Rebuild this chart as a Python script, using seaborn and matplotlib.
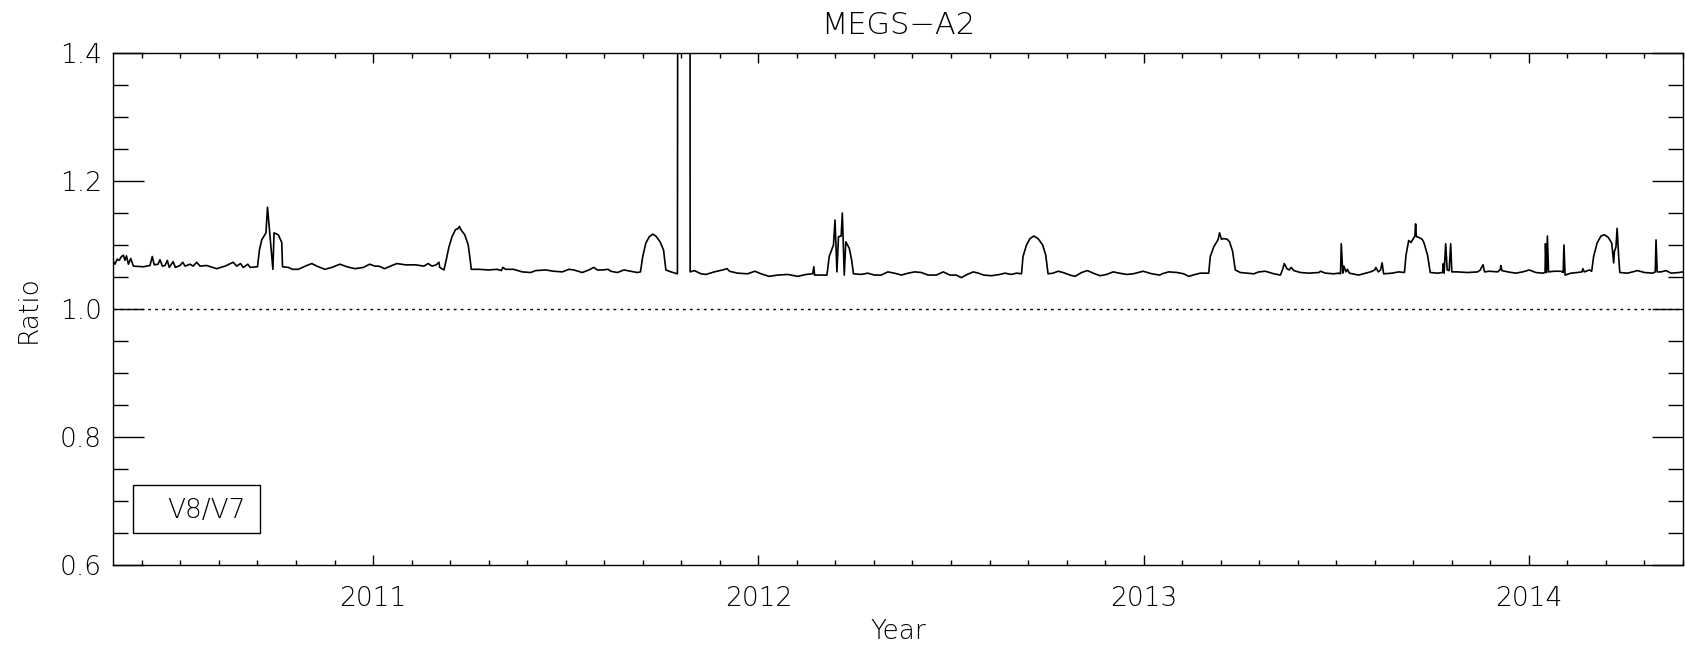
import numpy as np
import pandas as pd
import matplotlib
matplotlib.use("Agg")
import matplotlib.pyplot as plt
from matplotlib.patches import Rectangle
from matplotlib.ticker import MultipleLocator, FuncFormatter
import seaborn as sns

# ---- data (decimal year, V8/V7 ratio) ----
year_2010 = [2010.324, 2010.330, 2010.336, 2010.341, 2010.347, 2010.352, 2010.356, 2010.360,
             2010.365, 2010.371, 2010.378, 2010.404, 2010.421, 2010.427, 2010.432, 2010.442,
             2010.447, 2010.453, 2010.460, 2010.466, 2010.471, 2010.481, 2010.487, 2010.499,
             2010.506, 2010.512, 2010.525, 2010.533, 2010.542, 2010.551, 2010.568, 2010.594,
             2010.616, 2010.637, 2010.646, 2010.656, 2010.663, 2010.675, 2010.681, 2010.700,
             2010.705, 2010.711, 2010.722, 2010.726, 2010.740, 2010.743, 2010.754, 2010.760,
             2010.763, 2010.765, 2010.780, 2010.791, 2010.806, 2010.828, 2010.841, 2010.854,
             2010.875, 2010.893, 2010.914, 2010.932, 2010.953, 2010.975, 2010.991]
ratio_2010 = [1.076, 1.070, 1.078, 1.076, 1.082, 1.084, 1.076, 1.083,
              1.070, 1.079, 1.067, 1.066, 1.068, 1.082, 1.069, 1.070,
              1.077, 1.067, 1.068, 1.076, 1.065, 1.074, 1.065, 1.068,
              1.073, 1.067, 1.070, 1.067, 1.073, 1.067, 1.068, 1.063,
              1.067, 1.073, 1.067, 1.071, 1.065, 1.070, 1.065, 1.066,
              1.092, 1.108, 1.119, 1.159, 1.062, 1.119, 1.116, 1.108,
              1.104, 1.066, 1.065, 1.062, 1.062, 1.068, 1.071, 1.067,
              1.062, 1.065, 1.070, 1.066, 1.063, 1.065, 1.070]

year_2011 = [2011.005, 2011.015, 2011.030, 2011.049, 2011.062, 2011.084, 2011.110, 2011.132,
             2011.143, 2011.153, 2011.164, 2011.171, 2011.173, 2011.184, 2011.190, 2011.197,
             2011.205, 2011.214, 2011.221, 2011.224, 2011.229, 2011.238, 2011.247, 2011.251,
             2011.255, 2011.275, 2011.300, 2011.322, 2011.333, 2011.337, 2011.344, 2011.365,
             2011.387, 2011.409, 2011.422, 2011.448, 2011.469, 2011.491, 2011.508, 2011.521,
             2011.543, 2011.560, 2011.573, 2011.582, 2011.595, 2011.610, 2011.617, 2011.634,
             2011.651, 2011.668, 2011.686, 2011.694, 2011.700, 2011.708, 2011.717, 2011.726,
             2011.734, 2011.745, 2011.754, 2011.760, 2011.773, 2011.790, 2011.793, 2011.822,
             2011.823, 2011.834, 2011.851, 2011.864, 2011.886, 2011.907, 2011.919, 2011.925,
             2011.946, 2011.972, 2011.991]
ratio_2011 = [1.067, 1.067, 1.063, 1.068, 1.071, 1.069, 1.069, 1.067,
              1.071, 1.067, 1.069, 1.073, 1.065, 1.061, 1.077, 1.097,
              1.113, 1.124, 1.126, 1.129, 1.123, 1.116, 1.100, 1.082,
              1.062, 1.062, 1.061, 1.062, 1.060, 1.065, 1.062, 1.062,
              1.058, 1.057, 1.060, 1.061, 1.059, 1.058, 1.062, 1.061,
              1.057, 1.061, 1.065, 1.061, 1.061, 1.062, 1.059, 1.057,
              1.061, 1.059, 1.057, 1.058, 1.082, 1.103, 1.113, 1.117,
              1.114, 1.105, 1.092, 1.061, 1.058, 1.055, 3.000, 3.000,
              1.058, 1.060, 1.055, 1.054, 1.058, 1.061, 1.063, 1.059,
              1.056, 1.055, 1.059]

year_2012 = [2012.007, 2012.028, 2012.050, 2012.076, 2012.102, 2012.124, 2012.141, 2012.144,
             2012.146, 2012.163, 2012.178, 2012.184, 2012.195, 2012.199, 2012.204, 2012.208,
             2012.215, 2012.218, 2012.223, 2012.227, 2012.236, 2012.242, 2012.247, 2012.267,
             2012.284, 2012.301, 2012.319, 2012.336, 2012.353, 2012.366, 2012.371, 2012.389,
             2012.406, 2012.423, 2012.441, 2012.462, 2012.480, 2012.497, 2012.514, 2012.527,
             2012.542, 2012.558, 2012.571, 2012.585, 2012.605, 2012.627, 2012.640, 2012.657,
             2012.670, 2012.683, 2012.687, 2012.696, 2012.705, 2012.715, 2012.726, 2012.738,
             2012.746, 2012.752, 2012.765, 2012.778, 2012.791, 2012.809, 2012.822, 2012.839,
             2012.854, 2012.869, 2012.887, 2012.904, 2012.921, 2012.937, 2012.956, 2012.973,
             2012.999]
ratio_2012 = [1.055, 1.051, 1.053, 1.054, 1.051, 1.054, 1.055, 1.066,
              1.053, 1.053, 1.053, 1.082, 1.100, 1.139, 1.058, 1.113,
              1.114, 1.150, 1.053, 1.105, 1.095, 1.077, 1.055, 1.054,
              1.056, 1.053, 1.053, 1.058, 1.056, 1.054, 1.053, 1.056,
              1.058, 1.057, 1.053, 1.053, 1.058, 1.053, 1.053, 1.049,
              1.054, 1.058, 1.056, 1.053, 1.052, 1.054, 1.056, 1.054,
              1.056, 1.055, 1.082, 1.100, 1.110, 1.114, 1.110, 1.100,
              1.084, 1.055, 1.056, 1.059, 1.057, 1.053, 1.051, 1.057,
              1.060, 1.056, 1.052, 1.054, 1.058, 1.056, 1.054, 1.055,
              1.059]

year_2013 = [2013.021, 2013.042, 2013.048, 2013.065, 2013.087, 2013.104, 2013.117, 2013.134,
             2013.147, 2013.169, 2013.173, 2013.182, 2013.193, 2013.197, 2013.202, 2013.208,
             2013.217, 2013.223, 2013.231, 2013.238, 2013.251, 2013.268, 2013.286, 2013.299,
             2013.316, 2013.338, 2013.355, 2013.361, 2013.365, 2013.372, 2013.378, 2013.383,
             2013.390, 2013.407, 2013.429, 2013.455, 2013.459, 2013.472, 2013.494, 2013.507,
             2013.511, 2013.513, 2013.517, 2013.520, 2013.525, 2013.529, 2013.534, 2013.558,
             2013.576, 2013.589, 2013.600, 2013.603, 2013.609, 2013.615, 2013.619, 2013.623,
             2013.645, 2013.662, 2013.677, 2013.681, 2013.688, 2013.694, 2013.700, 2013.704,
             2013.706, 2013.708, 2013.714, 2013.723, 2013.728, 2013.737, 2013.744, 2013.763,
             2013.776, 2013.778, 2013.780, 2013.784, 2013.788, 2013.793, 2013.797, 2013.800,
             2013.815, 2013.841, 2013.867, 2013.874, 2013.877, 2013.881, 2013.885, 2013.897,
             2013.919, 2013.926, 2013.927, 2013.930, 2013.945, 2013.966, 2013.984]
ratio_2013 = [1.055, 1.053, 1.055, 1.058, 1.057, 1.055, 1.051, 1.054,
              1.056, 1.056, 1.082, 1.097, 1.108, 1.119, 1.109, 1.110,
              1.109, 1.105, 1.090, 1.061, 1.057, 1.056, 1.055, 1.058,
              1.059, 1.055, 1.053, 1.062, 1.071, 1.063, 1.061, 1.065,
              1.060, 1.057, 1.056, 1.057, 1.059, 1.056, 1.055, 1.056,
              1.055, 1.102, 1.056, 1.067, 1.058, 1.062, 1.056, 1.053,
              1.056, 1.058, 1.061, 1.065, 1.058, 1.061, 1.072, 1.055,
              1.056, 1.058, 1.057, 1.084, 1.107, 1.104, 1.110, 1.114,
              1.133, 1.113, 1.112, 1.109, 1.103, 1.084, 1.057, 1.056,
              1.057, 1.071, 1.056, 1.102, 1.061, 1.060, 1.102, 1.058,
              1.058, 1.057, 1.058, 1.061, 1.065, 1.069, 1.058, 1.059,
              1.058, 1.062, 1.068, 1.060, 1.058, 1.056, 1.058]

year_2014 = [2014.001, 2014.018, 2014.035, 2014.042, 2014.043, 2014.046, 2014.048, 2014.051,
             2014.066, 2014.083, 2014.089, 2014.091, 2014.094, 2014.109, 2014.126, 2014.138,
             2014.140, 2014.144, 2014.157, 2014.163, 2014.168, 2014.177, 2014.187, 2014.196,
             2014.206, 2014.215, 2014.220, 2014.222, 2014.226, 2014.229, 2014.233, 2014.236,
             2014.256, 2014.282, 2014.300, 2014.321, 2014.328, 2014.330, 2014.333, 2014.343,
             2014.356, 2014.369, 2014.390, 2014.408]
ratio_2014 = [1.061, 1.057, 1.056, 1.057, 1.102, 1.057, 1.114, 1.058,
              1.059, 1.059, 1.057, 1.100, 1.053, 1.056, 1.057, 1.058,
              1.063, 1.058, 1.061, 1.059, 1.082, 1.103, 1.114, 1.116,
              1.112, 1.103, 1.072, 1.090, 1.097, 1.126, 1.082, 1.057,
              1.056, 1.060, 1.057, 1.056, 1.058, 1.108, 1.058, 1.058,
              1.060, 1.056, 1.057, 1.059]

title = "MEGS\u2212A2"
x_label = "Year"
y_label = "Ratio"
legend_label = "V8/V7"
x_range = (2010.325, 2014.40)
y_range = (0.6, 1.4)
reference_level = 1.0

df = pd.DataFrame({
    "year": year_2010 + year_2011 + year_2012 + year_2013 + year_2014,
    "ratio": ratio_2010 + ratio_2011 + ratio_2012 + ratio_2013 + ratio_2014,
})

# ---- style ----
sns.set_style("ticks")
plt.rcParams["font.family"] = ["DejaVu Sans"]
FS = 19
TFS = 22
TXT = dict(fontweight="light", color="black")

fig = plt.figure(figsize=(16.85, 6.47), dpi=100)
ax = fig.add_axes([113 / 1685, 82 / 647, 1570 / 1685, 512 / 647])

sns.lineplot(data=df, x="year", y="ratio", ax=ax, color="black", linewidth=1.2,
             estimator=None, sort=False)
ax.axhline(reference_level, color="black", linewidth=1.0, linestyle=(0, (2, 3)))

ax.set_xlim(*x_range)
ax.set_ylim(*y_range)
ax.xaxis.set_major_locator(MultipleLocator(1))
ax.xaxis.set_minor_locator(MultipleLocator(0.1))
ax.yaxis.set_major_locator(MultipleLocator(0.2))
ax.yaxis.set_minor_locator(MultipleLocator(0.05))
ax.xaxis.set_major_formatter(FuncFormatter(lambda v, p: f"{v:.0f}"))
ax.yaxis.set_major_formatter(FuncFormatter(lambda v, p: f"{v:.1f}"))

ax.tick_params(axis="both", which="both", direction="in", top=True, right=True,
               color="black", width=1.0)
ax.tick_params(axis="x", which="major", length=7.2, pad=15, labelsize=FS, labelcolor="black")
ax.tick_params(axis="x", which="minor", length=3.6)
ax.tick_params(axis="y", which="major", length=22.3, pad=8, labelsize=FS, labelcolor="black")
ax.tick_params(axis="y", which="minor", length=10.8)
for lab in ax.get_xticklabels() + ax.get_yticklabels():
    lab.set_fontweight("light")
for s in ax.spines.values():
    s.set_visible(True)
    s.set_linewidth(1.0)
    s.set_color("black")

ax.set_xlabel(x_label, fontsize=FS, labelpad=6, **TXT)
ax.set_ylabel(y_label, fontsize=FS, labelpad=14, **TXT)
fig.text(898 / 1685, 1 - 26 / 647, title, fontsize=TFS, ha="center", va="center", **TXT)

# legend box
ax.add_patch(Rectangle((20 / 1570, 32 / 512), 127 / 1570, 48 / 512, transform=ax.transAxes,
                       fill=False, edgecolor="black", linewidth=1.0))
ax.text((206 - 113) / 1570, (565 - 510) / 512, legend_label,
        transform=ax.transAxes, fontsize=FS, ha="center", va="center", **TXT)

fig.savefig("out.png", dpi=100)
